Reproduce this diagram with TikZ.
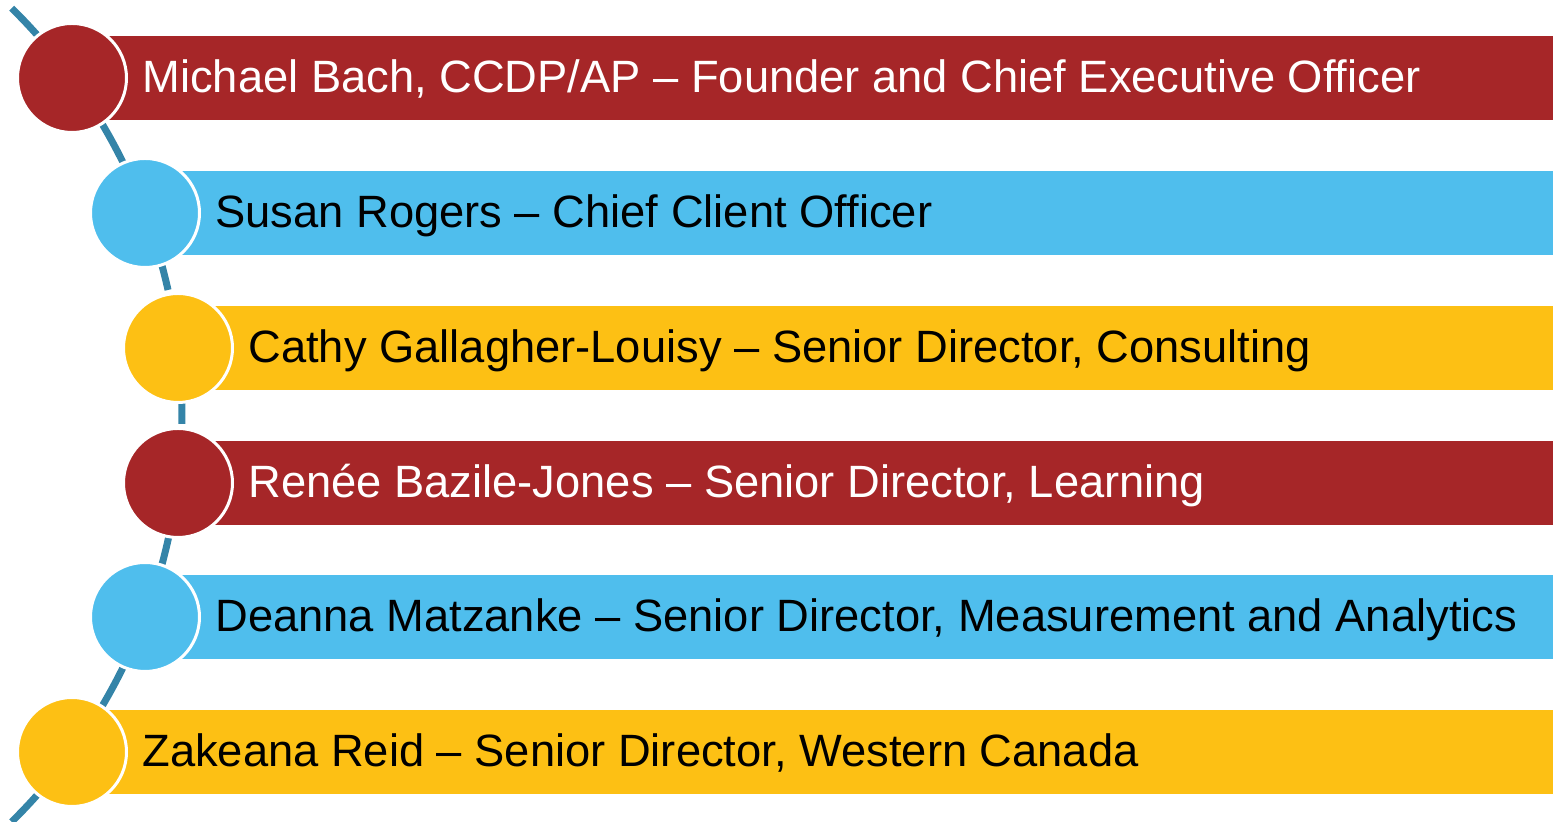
\documentclass[tikz,border=0pt]{standalone}
\usepackage{fontspec}
\setmainfont{Liberation Sans}
\definecolor{cred}{RGB}{166,38,40}
\definecolor{cblue}{RGB}{79,190,237}
\definecolor{cyel}{RGB}{253,192,20}
\definecolor{carc}{RGB}{52,132,168}
\begin{document}
\begin{tikzpicture}[x=0.5pt,y=0.5pt]
\tikzset{
  dot/.style={circle,minimum size=54.5pt,inner sep=0pt,draw=white,line width=1.5pt},
  lbl/.style={anchor=base west,inner sep=0pt,font=\fontsize{22.65}{26}\selectfont},
  arcline/.style={draw=carc,line width=3.5pt}
}
\useasboundingbox (0,0) rectangle (1553,822);
\coordinate (ac) at (-389.5,407);
\def\R{571.4}
\draw[arcline] (ac) ++(45.4:\R) arc[start angle=45.4,end angle=12.64,radius=\R];
\draw[arcline] (ac) ++(11.9:\R) arc[start angle=11.9,end angle=-0.9,radius=\R];
\draw[arcline] (ac) ++(-1.5:\R) arc[start angle=-1.5,end angle=-45.4,radius=\R];
\foreach \i/\cx/\Y/\col/\tc/\txt in {
  1/72/744/cred/white/{Michael Bach, CCDP/AP – Founder and Chief Executive Officer},
  2/145/609/cblue/black/{Susan Rogers – Chief Client Officer},
  3/178/474/cyel/black/{Cathy Gallagher-Louisy – Senior Director, Consulting},
  4/178/339/cred/white/{Renée Bazile-Jones – Senior Director, Learning},
  5/145/205/cblue/black/{Deanna Matzanke – Senior Director, Measurement and Analytics},
  6/72/70/cyel/black/{Zakeana Reid – Senior Director, Western Canada}}{
  \fill[\col] (\cx,\Y-42) rectangle (1553,\Y+42);
  \node[dot,fill=\col] (c\i) at (\cx,\Y) {};
  \node[lbl,text=\tc] (t\i) at (\cx+70,\Y-14.5) {\txt};
}
\end{tikzpicture}
\end{document}
